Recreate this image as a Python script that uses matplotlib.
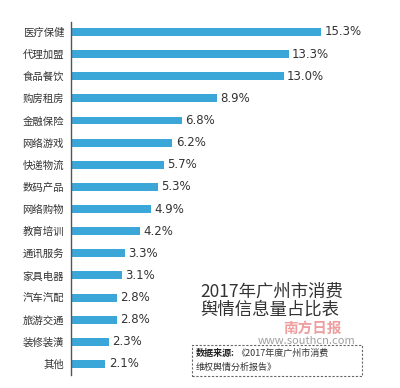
import matplotlib
matplotlib.use('Agg')
import matplotlib.pyplot as plt
from matplotlib.patches import Rectangle

plt.rcParams['font.family'] = ['Noto Sans CJK SC', 'DejaVu Sans']

# Data
categories = ['医疗保健', '代理加盟', '食品餐饮', '购房租房', '金融保险', '网络游戏',
              '快递物流', '数码产品', '网络购物', '教育培训', '通讯服务', '家具电器',
              '汽车汽配', '旅游交通', '装修装潢', '其他']
shares = [15.3, 13.3, 13.0, 8.9, 6.8, 6.2, 5.7, 5.3, 4.9, 4.2, 3.3, 3.1, 2.8, 2.8, 2.3, 2.1]
value_labels = ['15.3%', '13.3%', '13.0%', '8.9%', '6.8%', '6.2%', '5.7%', '5.3%',
                '4.9%', '4.2%', '3.3%', '3.1%', '2.8%', '2.8%', '2.3%', '2.1%']

W, H = 400, 388
fig = plt.figure(figsize=(W / 100, H / 100), dpi=100)
fig.patch.set_facecolor('white')
ax = fig.add_axes([71 / W, 13 / H, 1 - 71 / W, 353 / H])

y = list(range(len(categories)))
bars = ax.barh(y, shares, height=0.36, color='#3ba6d8')
ax.set_xlim(0, 20.1)
ax.set_ylim(15.5, -0.45)

for bar, lab in zip(bars, value_labels):
    ax.text(bar.get_width() + 0.2, bar.get_y() + bar.get_height() / 2, lab,
            va='center', ha='left', fontsize=8.5, color='#333333', family='DejaVu Sans')

ax.set_yticks(y)
ax.set_yticklabels(categories, fontsize=7.5, color='#333333')
ax.tick_params(axis='y', length=0, pad=5)
ax.set_xticks([])
for side in ['top', 'right', 'bottom']:
    ax.spines[side].set_visible(False)
ax.spines['left'].set_color('#555555')
ax.spines['left'].set_linewidth(1.0)

# Title block
fig.text(200 / W, 1 - 292 / H, '2017年广州市消费', fontsize=12.5, color='#333333',
         va='center', ha='left')
fig.text(200 / W, 1 - 310 / H, '舆情信息量占比表', fontsize=12.5, color='#333333',
         va='center', ha='left')

# Watermark
fig.text(312 / W, 1 - 328 / H, '南方日报', fontsize=10.5, color='#e05050', alpha=0.55,
         va='center', ha='center', fontweight='bold', style='italic')
fig.text(307 / W, 1 - 341 / H, 'www.southcn.com', fontsize=8, color='#888888',
         alpha=0.8, va='center', ha='center')

# Source box
fig.patches.append(Rectangle((192 / W, 1 - 376 / H), 170 / W, 31 / H,
                             transform=fig.transFigure, fill=False,
                             edgecolor='#666666', linestyle=(0, (2, 1.5)), linewidth=0.8))
fig.text(196 / W, 1 - 353 / H, '数据来源:', fontsize=6.5, fontweight='bold',
         color='#222222', va='center', ha='left')
fig.text(236 / W, 1 - 353 / H, '《2017年度广州市消费', fontsize=6.5,
         color='#333333', va='center', ha='left')
fig.text(196 / W, 1 - 367 / H, '维权舆情分析报告》', fontsize=6.5,
         color='#333333', va='center', ha='left')

fig.savefig('out.png', dpi=100, facecolor='white')
